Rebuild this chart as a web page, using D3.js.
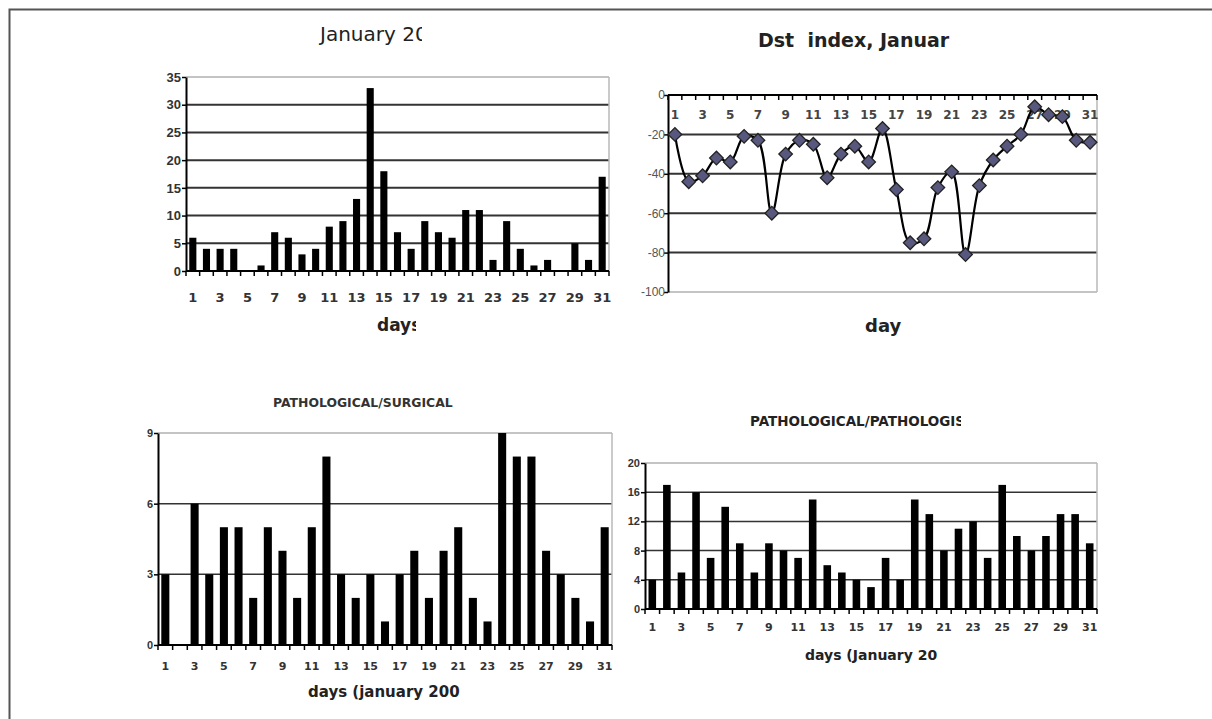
<!DOCTYPE html>
<html><head><meta charset="utf-8">
<script src="https://cdn.jsdelivr.net/npm/d3@7"></script>
<style>body{margin:0;background:#fff;}svg{display:block;font-family:"DejaVu Sans",Verdana,sans-serif;}</style>
</head><body>
<svg id="c" width="1212" height="719"></svg>
<script>
const days = d3.range(1, 32);
const oddDayLabels = days.filter(d => d % 2 === 1);
// Panel 1 (top-left): counts, January
const p1Values = [6,4,4,4,0,1,7,6,3,4,8,9,13,33,18,7,4,9,7,6,11,11,2,9,4,1,2,0,5,2,17];
const p1Ticks = [0,5,10,15,20,25,30,35];
// Panel 2 (top-right): Dst index
const dstValues = [-20,-44,-41,-32,-34,-21,-23,-60,-30,-23,-25,-42,-30,-26,-34,-17,-48,-75,-73,-47,-39,-81,-46,-33,-26,-20,-6,-10,-11,-23,-24];
const dstTicks = [0,-20,-40,-60,-80,-100];
// Panel 3 (bottom-left): pathological/surgical
const p3Values = [3,0,6,3,5,5,2,5,4,2,5,8,3,2,3,1,3,4,2,4,5,2,1,9,8,8,4,3,2,1,5];
const p3Ticks = [0,3,6,9];
// Panel 4 (bottom-right): pathological/pathological
const p4Values = [4,17,5,16,7,14,9,5,9,8,7,15,6,5,4,3,7,4,15,13,8,11,12,7,17,10,8,10,13,13,9];
const p4Ticks = [0,4,8,12,16,20];

const svg = d3.select("#c");
const defs = svg.append("defs");

// page frame
svg.append("path").attr("d","M9.5,719V9.5H1212").attr("fill","none").attr("stroke","#555").attr("stroke-width",2);

function clipText(id, x0, x1, y0, y1){
  defs.append("clipPath").attr("id",id).append("rect")
    .attr("x",x0).attr("y",y0).attr("width",x1-x0).attr("height",y1-y0);
  return "url(#"+id+")";
}

function barPanel(o){
  const g = svg.append("g");
  const x = d3.scaleBand().domain(days).range([o.x0,o.x1]).paddingInner(o.pad).paddingOuter(o.pad/2);
  const y = d3.scaleLinear().domain([0,o.max]).range([o.y0,o.y1]);
  g.selectAll("line.grid").data(o.ticks.filter(t=>t!==0)).join("line")
    .attr("x1",o.x0).attr("x2",o.x1).attr("y1",d=>y(d)).attr("y2",d=>y(d))
    .attr("stroke",d=>d===o.max?"#b0b0b0":"#333").attr("stroke-width",d=>d===o.max?1.5:o.gw);
  g.append("line").attr("x1",o.x1).attr("x2",o.x1).attr("y1",y(o.max)).attr("y2",y(0)).attr("stroke","#b8b8b8").attr("stroke-width",1.5);
  g.selectAll("rect.bar").data(o.values).join("rect")
    .attr("x",(d,i)=>x(days[i])).attr("width",x.bandwidth())
    .attr("y",d=>y(d)).attr("height",d=>y(0)-y(d)).attr("fill","#000");
  const ya = d3.axisLeft(y).tickValues(o.ticks).tickSize(4).tickSizeOuter(0);
  const yg = g.append("g").attr("transform",`translate(${o.x0},0)`).call(ya);
  yg.select(".domain").attr("stroke","#000").attr("stroke-width",2);
  yg.selectAll(".tick line").attr("stroke","#000").attr("stroke-width",1.5);
  yg.selectAll("text").attr("font-size",o.yfs).attr("font-weight","bold").attr("fill","#333").attr("x",-5);
  const xg = g.append("g").attr("transform",`translate(0,${o.y0})`);
  xg.append("line").attr("x1",o.x0).attr("x2",o.x1).attr("y1",0).attr("y2",0).attr("stroke","#000").attr("stroke-width",2);
  const step = x.step();
  xg.selectAll("line.t").data(d3.range(0,32)).join("line")
    .attr("x1",d=>o.x0+d*step).attr("x2",d=>o.x0+d*step).attr("y1",0).attr("y2",5).attr("stroke","#000").attr("stroke-width",1.5);
  xg.selectAll("text").data(oddDayLabels).join("text")
    .attr("x",d=>x(d)+x.bandwidth()/2).attr("y",o.xly-o.y0).attr("text-anchor","middle")
    .attr("font-size",o.xfs).attr("font-weight","bold").attr("fill","#333").text(d=>d);
  return g;
}

// Panel 1
barPanel({x0:186,x1:609,y0:271,y1:77,max:35,ticks:p1Ticks,values:p1Values,pad:0.48,gw:2,yfs:13,xfs:13,xly:302});
svg.append("text").attr("x",320).attr("y",41).attr("font-size",20).attr("fill","#222")
  .attr("clip-path",clipText("c1",300,422,10,60)).text("January 20");
svg.append("text").attr("x",377).attr("y",331).attr("font-size",17).attr("font-weight","bold").attr("fill","#222")
  .attr("clip-path",clipText("c2",360,416,300,345)).text("days");

// Panel 2 (line)
(function(){
  const g = svg.append("g");
  const x0=668,x1=1097,y0=95,y1=292;
  const x = d3.scalePoint().domain(days).range([x0,x1]).padding(0.5);
  const y = d3.scaleLinear().domain([0,-100]).range([y0,y1]);
  g.selectAll("line.grid").data(dstTicks.filter(t=>t!==0)).join("line")
    .attr("x1",x0).attr("x2",x1).attr("y1",d=>y(d)).attr("y2",d=>y(d))
    .attr("stroke",d=>d===-100?"#b0b0b0":"#333").attr("stroke-width",d=>d===-100?1.5:2);
  g.append("line").attr("x1",x1).attr("x2",x1).attr("y1",y0).attr("y2",y1).attr("stroke","#b8b8b8").attr("stroke-width",1.5);
  const ya = d3.axisLeft(y).tickValues(dstTicks).tickSize(4).tickSizeOuter(0);
  const yg = g.append("g").attr("transform",`translate(${x0},0)`).call(ya);
  yg.select(".domain").attr("stroke","#000").attr("stroke-width",2);
  yg.selectAll(".tick line").attr("stroke","#000").attr("stroke-width",1.5);
  yg.selectAll("text").attr("font-size",12).attr("fill","#555").attr("x",-3).text(d=>d===0?"0":"-"+Math.abs(d));
  g.append("line").attr("x1",x0).attr("x2",x1).attr("y1",y0).attr("y2",y0).attr("stroke","#000").attr("stroke-width",2);
  const step = x.step();
  g.selectAll("line.t").data(d3.range(0,32)).join("line")
    .attr("x1",d=>x0+d*step).attr("x2",d=>x0+d*step).attr("y1",y0).attr("y2",y0+5).attr("stroke","#000").attr("stroke-width",1.5);
  g.selectAll("text.xl").data(oddDayLabels).join("text").attr("class","xl")
    .attr("x",d=>x(d)).attr("y",119).attr("text-anchor","middle")
    .attr("font-size",12).attr("font-weight","bold").attr("fill","#444").text(d=>d);
  const line = d3.line().x((d,i)=>x(days[i])).y(d=>y(d)).curve(d3.curveCatmullRom.alpha(0.5));
  g.append("path").datum(dstValues).attr("d",line).attr("fill","none").attr("stroke","#000").attr("stroke-width",2.2);
  g.selectAll("path.m").data(dstValues).join("path").attr("class","m")
    .attr("transform",(d,i)=>`translate(${x(days[i])},${y(d)}) rotate(45)`)
    .attr("d",d3.symbol().type(d3.symbolSquare).size(92))
    .attr("fill","#58587e").attr("stroke","#222").attr("stroke-width",1.3);
})();
svg.append("text").attr("x",758).attr("y",47).attr("font-size",19).attr("font-weight","bold").attr("fill","#222")
  .attr("xml:space","preserve").text("Dst  index, Januar");
svg.append("text").attr("x",865).attr("y",332).attr("font-size",18).attr("font-weight","bold").attr("fill","#222").text("day");

// Panel 3
barPanel({x0:158,x1:612,y0:645,y1:433,max:9,ticks:p3Ticks,values:p3Values,pad:0.45,gw:1.5,yfs:11,xfs:11,xly:670});
svg.append("text").attr("x",273).attr("y",407).attr("font-size",12.4).attr("font-weight","bold").attr("fill","#333").text("PATHOLOGICAL/SURGICAL");
svg.append("text").attr("x",308).attr("y",697).attr("font-size",15).attr("font-weight","bold").attr("fill","#222").text("days (january 200");

// Panel 4
barPanel({x0:645,x1:1097,y0:609,y1:463,max:20,ticks:p4Ticks,values:p4Values,pad:0.48,gw:1.5,yfs:11,xfs:11,xly:631});
svg.append("text").attr("x",750).attr("y",426).attr("font-size",13.5).attr("font-weight","bold").attr("fill","#222")
  .attr("clip-path",clipText("c4",740,961,400,440)).text("PATHOLOGICAL/PATHOLOGIS");
svg.append("text").attr("x",805).attr("y",660).attr("font-size",14).attr("font-weight","bold").attr("fill","#222").text("days (January 20");
</script>
</body></html>
